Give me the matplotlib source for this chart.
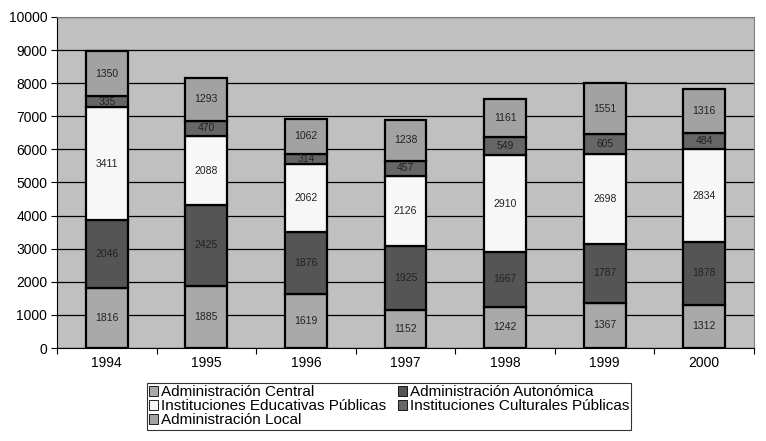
import numpy as np
import matplotlib.pyplot as plt
from matplotlib import font_manager
from matplotlib.patches import Patch

# pick the regular (not narrow) Liberation Sans
fname = None
for f in font_manager.fontManager.ttflist:
    if f.fname.endswith('LiberationSans-Regular.ttf'):
        fname = f.fname
fp = font_manager.FontProperties(fname=fname)
plt.rcParams['font.family'] = [fp.get_name(), 'DejaVu Sans']

years = ['1994', '1995', '1996', '1997', '1998', '1999', '2000']
central = [1816, 1885, 1619, 1152, 1242, 1367, 1312]
autonomica = [2046, 2425, 1876, 1925, 1667, 1787, 1878]
educativas = [3411, 2088, 2062, 2126, 2910, 2698, 2834]
culturales = [335, 470, 314, 457, 549, 605, 484]
local = [1350, 1293, 1062, 1238, 1161, 1551, 1316]

series = [
    ('Administración Central', central, '#a9a9a9'),
    ('Administración Autonómica', autonomica, '#555555'),
    ('Instituciones Educativas Públicas', educativas, '#f7f7f7'),
    ('Instituciones Culturales Públicas', culturales, '#666666'),
    ('Administración Local', local, '#a2a2a2'),
]

fig = plt.figure(figsize=(7.66, 4.41), dpi=100)
ax = fig.add_axes([57 / 766, 1 - 348 / 441, (754 - 57) / 766, (348 - 17) / 441])
ax.set_facecolor('#c0c0c0')

x = np.arange(len(years))
bottom = np.zeros(len(years))
handles = []
labfp = font_manager.FontProperties(fname=fname, size=7.5)
for name, vals, col in series:
    vals = np.array(vals)
    ax.bar(x, vals, 0.42, bottom=bottom, color=col, edgecolor='black', linewidth=1.6, zorder=3)
    for xi, b, v in zip(x, bottom, vals):
        ax.text(xi, b + v / 2, str(v), ha='center', va='center', fontproperties=labfp,
                color='#222222', zorder=4)
    bottom += vals
    handles.append(Patch(facecolor=col, edgecolor='black', linewidth=0.6, label=name))

ax.set_xlim(-0.5, len(years) - 0.5)
ax.set_ylim(0, 10000)
ax.set_yticks(np.arange(0, 10001, 1000))
ax.yaxis.grid(True, color='black', linewidth=0.9, zorder=0)
ax.set_axisbelow(True)
ax.set_xticks(x)
ax.set_xticklabels(years)
ax.set_xticks(np.arange(-0.5, len(years), 1), minor=True)
ax.tick_params(axis='x', which='major', length=0, pad=6)
ax.tick_params(axis='x', which='minor', length=4, width=0.8)
ax.tick_params(axis='y', length=4, width=0.8, pad=3)
for lab in ax.get_xticklabels() + ax.get_yticklabels():
    lab.set_fontproperties(fp)
    lab.set_fontsize(10)
for s in ['top', 'right']:
    ax.spines[s].set_color('#808080')
ax.spines['left'].set_color('black')
ax.spines['bottom'].set_color('black')

order = [0, 2, 4, 1, 3]
legfp = font_manager.FontProperties(fname=fname, size=11)
leg = fig.legend([handles[i] for i in order], [series[i][0] for i in order],
                 loc='upper left', bbox_to_anchor=(147 / 766, 1 - 383 / 441),
                 ncol=2, prop=legfp, frameon=True, fancybox=False,
                 handlelength=0.6, handleheight=0.6, handletextpad=0.15,
                 columnspacing=0.8, labelspacing=0.0, borderpad=0.15,
                 borderaxespad=0)
leg.get_frame().set_edgecolor('black')
leg.get_frame().set_linewidth(0.8)

fig.savefig('out.png', dpi=100)
